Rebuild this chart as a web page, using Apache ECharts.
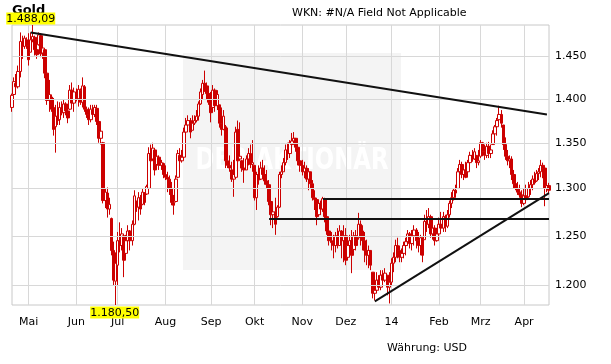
<!DOCTYPE html>
<html><head><meta charset="utf-8">
<script src="https://cdn.jsdelivr.net/npm/echarts@6/dist/echarts.min.js"></script>
<style>html,body{margin:0;padding:0;background:#fff}#c{width:611px;height:364px}</style>
</head><body><div id="c"></div>
<script>
// Gold daily OHLC (USD), weekdays from 2013-04-19
const startDate = [2013, 3, 19];
const open = [
1390,1405,1418,1414,1432,1466,1462,1470,1463,1455,
1470,1473,1458,1464,1475,1454,1458,1430,1398,1402,
1390,1368,1380,1376,1388,1384,1394,1386,1388,1410,
1395,1406,1400,1410,1396,1414,1388,1382,1376,1387,
1382,1389,1374,1355,1350,1287,1295,1278,1268,1235,
1204,1220,1245,1240,1250,1232,1245,1255,1245,1262,
1286,1280,1290,1283,1295,1294,1300,1338,1332,1342,
1326,1334,1325,1327,1315,1312,1310,1300,1285,1286,
1312,1336,1330,1334,1362,1370,1375,1364,1372,1375,
1380,1394,1405,1418,1415,1406,1398,1390,1410,1392,
1393,1372,1365,1368,1330,1325,1320,1310,1312,1365,
1332,1330,1322,1320,1332,1338,1326,1325,1290,1315,
1310,1322,1315,1308,1304,1286,1272,1275,1270,1280,
1315,1318,1328,1342,1338,1348,1352,1355,1345,1330,
1325,1318,1322,1310,1318,1305,1290,1288,1272,1284,
1278,1288,1270,1255,1245,1243,1240,1250,1240,1255,
1245,1250,1228,1240,1245,1236,1250,1248,1262,1255,
1245,1235,1230,1235,1213,1192,1195,1205,1198,1210,
1205,1210,1198,1203,1222,1228,1240,1235,1228,1232,
1240,1244,1252,1242,1250,1256,1245,1240,1248,1246,
1265,1262,1270,1252,1258,1245,1252,1262,1258,1270,
1260,1272,1284,1290,1298,1300,1318,1326,1315,1320,
1318,1328,1336,1332,1336,1328,1335,1350,1340,1336,
1346,1338,1348,1360,1368,1376,1382,1370,1348,1335,
1330,1332,1315,1305,1300,1296,1293,1284,1292,1291,
1300,1304,1310,1308,1316,1318,1325,1322,1300,1303];
const high = [
1406,1425,1429,1439,1479,1475,1475,1473,1478,1479,
1488.09,1475,1471,1479,1478,1463,1459,1436,1422,1405,
1401,1393,1397,1396,1397,1399,1396,1393,1416,1419,
1413,1412,1416,1412,1425,1416,1391,1390,1393,1393,
1393,1393,1381,1368,1351,1300,1301,1290,1269,1244,
1233,1254,1264,1258,1252,1251,1261,1256,1266,1298,
1287,1296,1293,1300,1296,1304,1345,1348,1350,1344,
1340,1336,1331,1328,1325,1318,1314,1307,1293,1314,
1342,1344,1342,1367,1378,1381,1378,1381,1381,1387,
1397,1412,1422,1433,1419,1412,1408,1416,1412,1410,
1393,1390,1387,1370,1367,1336,1329,1331,1368,1375,
1373,1331,1333,1336,1344,1348,1353,1325,1318,1325,
1329,1331,1325,1320,1309,1298,1282,1290,1282,1318,
1325,1333,1348,1350,1353,1361,1362,1355,1348,1342,
1331,1329,1325,1322,1318,1309,1298,1290,1287,1287,
1291,1290,1277,1269,1254,1251,1254,1258,1261,1256,
1261,1258,1248,1251,1256,1254,1256,1274,1266,1261,
1254,1246,1240,1235,1213,1207,1213,1210,1215,1215,
1217,1210,1213,1227,1233,1246,1248,1240,1237,1244,
1248,1256,1254,1256,1261,1258,1254,1251,1248,1272,
1277,1279,1272,1266,1261,1258,1269,1275,1275,1272,
1277,1287,1296,1300,1304,1322,1331,1329,1325,1329,
1331,1340,1342,1344,1336,1342,1353,1351,1348,1350,
1351,1348,1364,1370,1378,1392,1387,1370,1356,1342,
1336,1335,1320,1314,1307,1304,1298,1300,1304,1307,
1309,1314,1318,1320,1322,1331,1328,1322,1309,1306];
const low = [
1385,1404,1412,1412,1425,1447,1459,1459,1439,1455,
1467,1451,1447,1463,1449,1447,1424,1393,1385,1385,
1358,1339,1370,1370,1381,1378,1381,1372,1387,1390,
1385,1397,1391,1393,1390,1385,1378,1370,1373,1379,
1379,1370,1350,1348,1284,1279,1269,1272,1230,1200,
1180.5,1200,1233,1235,1208,1230,1233,1235,1240,1261,
1275,1266,1272,1282,1282,1293,1296,1325,1331,1314,
1325,1320,1320,1311,1309,1296,1293,1282,1272,1285,
1311,1325,1328,1333,1353,1362,1355,1364,1370,1373,
1375,1393,1399,1408,1399,1393,1373,1390,1385,1387,
1367,1358,1364,1322,1322,1318,1307,1291,1311,1325,
1331,1318,1306,1320,1325,1322,1318,1287,1277,1304,
1309,1311,1304,1300,1282,1261,1258,1251,1269,1279,
1311,1318,1325,1331,1333,1344,1348,1340,1325,1318,
1314,1311,1307,1298,1300,1287,1277,1261,1272,1272,
1275,1264,1251,1240,1235,1227,1233,1237,1240,1227,
1223,1220,1227,1233,1212,1235,1235,1246,1240,1235,
1223,1220,1217,1215,1187,1185,1193,1195,1195,1200,
1203,1190,1182,1200,1213,1223,1227,1223,1223,1227,
1230,1240,1237,1235,1240,1237,1233,1230,1223,1246,
1254,1258,1248,1246,1240,1244,1246,1254,1254,1254,
1258,1269,1279,1287,1290,1300,1314,1311,1309,1311,
1318,1325,1329,1331,1322,1325,1333,1335,1331,1333,
1333,1333,1348,1351,1358,1370,1367,1342,1331,1325,
1322,1309,1300,1298,1293,1290,1280,1282,1285,1290,
1293,1298,1304,1307,1309,1312,1311,1281,1296,1295];
const close = [
1404,1420,1414,1432,1468,1462,1472,1463,1446,1470,
1474,1458,1452,1476,1453,1460,1430,1398,1405,1388,
1365,1380,1375,1390,1384,1394,1386,1378,1410,1395,
1408,1400,1411,1396,1415,1388,1382,1376,1388,1382,
1390,1374,1355,1363,1287,1296,1278,1283,1235,1205,
1222,1245,1240,1252,1225,1245,1255,1245,1262,1292,
1280,1290,1278,1296,1285,1302,1338,1330,1344,1320,
1335,1325,1328,1315,1312,1310,1300,1285,1282,1310,
1338,1330,1334,1362,1370,1375,1362,1372,1375,1380,
1394,1408,1418,1415,1406,1396,1384,1410,1392,1405,
1372,1365,1380,1330,1325,1322,1310,1315,1362,1330,
1335,1322,1320,1332,1338,1326,1328,1290,1315,1309,
1322,1315,1308,1304,1286,1272,1275,1262,1280,1315,
1318,1328,1342,1338,1350,1352,1355,1345,1330,1325,
1318,1322,1310,1318,1305,1290,1288,1270,1284,1278,
1289,1270,1255,1245,1243,1240,1250,1240,1255,1245,
1250,1225,1240,1245,1230,1250,1240,1262,1255,1245,
1235,1230,1235,1220,1192,1195,1205,1198,1210,1205,
1212,1198,1203,1222,1228,1240,1235,1228,1232,1240,
1244,1252,1242,1250,1256,1245,1240,1248,1230,1265,
1262,1270,1252,1258,1245,1252,1262,1258,1270,1260,
1272,1284,1290,1298,1295,1318,1326,1315,1320,1312,
1328,1336,1332,1340,1328,1330,1350,1340,1336,1346,
1338,1342,1360,1368,1375,1382,1372,1348,1335,1330,
1332,1315,1305,1300,1296,1293,1284,1292,1288,1300,
1304,1310,1306,1316,1318,1325,1322,1300,1303,1298];

const monthKeys = ['2013-05','2013-06','2013-07','2013-08','2013-09','2013-10','2013-11','2013-12','2014-01','2014-02','2014-03','2014-04'];
const monthLabels = ['Mai','Jun','Jul','Aug','Sep','Okt','Nov','Dez','14','Feb','Mrz','Apr'];
const yTicks = [1200,1250,1300,1350,1400,1450];
const extremeLabels = ['1.488,09','1.180,50'];
// trend / support lines: [startIndex, startPrice, endIndex, endPrice]
const trendDown = [9, 1479, 258, 1382];
const support1 = [150, 1289, 259, 1289];
const support2 = [124, 1268, 259, 1268];
const trendUp = [175, 1184, 259, 1295];

const dates = [];
let d = new Date(Date.UTC(startDate[0], startDate[1], startDate[2]));
while (dates.length < close.length) {
  const wd = d.getUTCDay();
  if (wd !== 0 && wd !== 6) dates.push(d.toISOString().slice(0, 10));
  d = new Date(d.getTime() + 86400000);
}
const labelAt = {};
dates.forEach((ds, i) => {
  const k = ds.slice(0, 7);
  if (i > 0 && k !== dates[i - 1].slice(0, 7)) {
    const j = monthKeys.indexOf(k);
    if (j >= 0) labelAt[i] = monthLabels[j];
  }
});
const fmt = v => String(v).replace(/\B(?=(\d{3})+(?!\d))/g, '.');
let hiIdx = 0, loIdx = 0;
high.forEach((v, i) => { if (v > high[hiIdx]) hiIdx = i; });
low.forEach((v, i) => { if (v < low[loIdx]) loIdx = i; });
const seg = a => [{coord: [dates[a[0]], a[1]]}, {coord: [dates[a[2]], a[3]]}];
const F = 'DejaVu Sans';
const RED = '#cc0000';

const chart = echarts.init(document.getElementById('c'), null, {renderer: 'canvas'});
chart.setOption({
  animation: false,
  textStyle: {fontFamily: F},
  grid: {left: 12, right: 62, top: 25, bottom: 59, show: true, borderColor: '#c8c8c8', borderWidth: 1},
  xAxis: {
    type: 'category', data: dates, boundaryGap: false,
    axisLine: {show: false}, axisTick: {show: false},
    axisLabel: {interval: i => labelAt[i] !== undefined, formatter: (v, i) => labelAt[i] || '',
      color: '#000', fontSize: 11, margin: 12, fontFamily: F},
    splitLine: {show: true, interval: i => labelAt[i] !== undefined, lineStyle: {color: '#d8d8d8', width: 1}}
  },
  yAxis: {
    type: 'log', logBase: 10, min: low[loIdx], max: high[hiIdx],
    axisLine: {show: false}, axisTick: {show: false}, axisLabel: {show: false}, splitLine: {show: false}
  },
  graphic: [
    {type: 'rect', z: -10, shape: {x: 183, y: 53, width: 218, height: 217}, style: {fill: '#f4f4f4'}},
    {type: 'text', z: -9, x: 292, y: 161, scaleX: 0.76, style: {text: 'DER AKTIONÄR', x: 0, y: 0, textAlign: 'center', textVerticalAlign: 'middle',
      font: 'bold 30px "DejaVu Sans"', fill: '#ffffff'}},
    {type: 'text', z: -5, left: 12, top: 4, style: {text: 'Gold', font: 'bold 13px "DejaVu Sans"', fill: '#000'}},
    {type: 'text', left: 292, top: 8, style: {text: 'WKN: #N/A Field Not Applicable', font: '11px "DejaVu Sans"', fill: '#000'}},
    {type: 'text', left: 387, top: 343, style: {text: 'Währung: USD', font: '11px "DejaVu Sans"', fill: '#000'}}
  ],
  series: [
    {
      type: 'line', data: [], silent: true, z: 1,
      markLine: {
        silent: true, symbol: 'none', animation: false,
        lineStyle: {color: '#d8d8d8', width: 1, type: 'solid'},
        label: {position: 'end', color: '#000', fontSize: 11, fontFamily: F, distance: 6},
        data: yTicks.map(v => ({yAxis: v, label: {formatter: fmt(v)}}))
      }
    },
    {
      type: 'candlestick', z: 2,
      data: close.map((c, i) => [open[i], c, low[i], high[i]]),
      barWidth: 3,
      itemStyle: {color: '#ffffff', color0: RED, borderColor: RED, borderColor0: RED, borderWidth: 1},
      markLine: {
        silent: true, symbol: 'none', animation: false,
        lineStyle: {color: '#111', width: 2, type: 'solid'},
        label: {show: false},
        data: [seg(trendDown), seg(support1), seg(support2), seg(trendUp)]
      },
      markPoint: {
        symbol: 'rect', symbolSize: 1, animation: false, silent: true,
        itemStyle: {color: 'rgba(0,0,0,0)'},
        label: {show: true, color: '#000', fontSize: 11, fontFamily: F, backgroundColor: '#ffff00', padding: [1, 0, 0, 0], distance: 0},
        data: [
          {coord: [dates[hiIdx], high[hiIdx]], label: {position: 'top', offset: [-2, 0], formatter: extremeLabels[0]}},
          {coord: [dates[loIdx], low[loIdx]], label: {position: 'bottom', offset: [-1, 1], formatter: extremeLabels[1]}}
        ]
      }
    }
  ]
});
</script></body></html>
